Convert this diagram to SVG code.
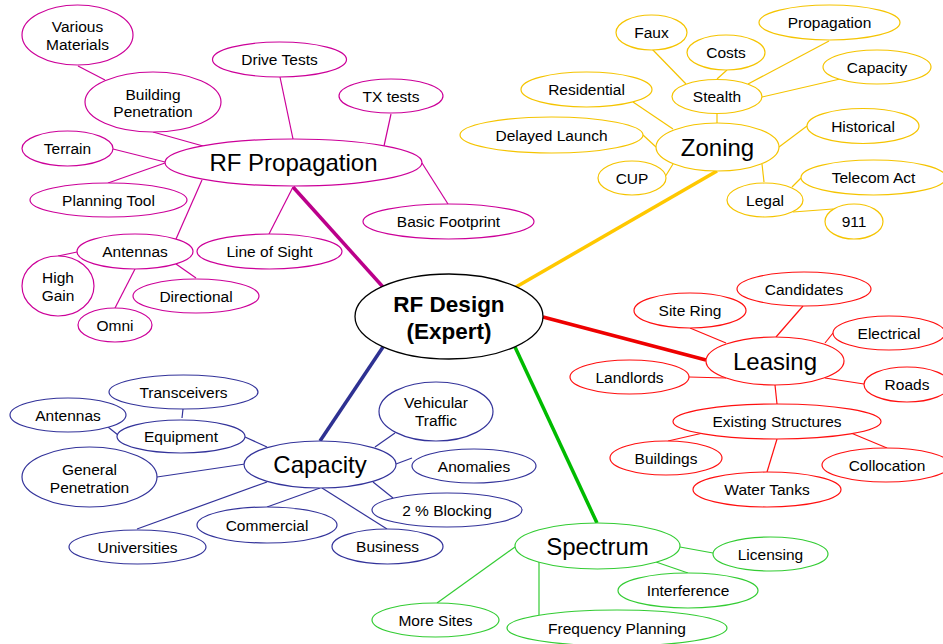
<svg xmlns="http://www.w3.org/2000/svg" width="943" height="644" viewBox="0 0 943 644">
<style>
text{font-family:"Liberation Sans",Arial,sans-serif;fill:#000;text-anchor:middle}
.s{font-size:15.5px}
.l{font-size:24px}
.c{font-size:22.5px;font-weight:bold}
ellipse{fill:#fff;stroke-width:1.2}
.pm ellipse{stroke:#cc0099}
.py ellipse{stroke:#f5c400}
.pr ellipse{stroke:#ff1010}
.pb ellipse{stroke:#33339a}
.pg ellipse{stroke:#33cc33}
.pc ellipse{stroke:#000;stroke-width:1.3}
line{stroke-width:1.2}
.m{stroke:#cc0099}.y{stroke:#f5c400}.r{stroke:#ff1010}.b{stroke:#33339a}.g{stroke:#33cc33}
.t{stroke-width:3.5}
.tm{stroke:#bb008a}.ty{stroke:#ffc800}.tr{stroke:#ee0000}.tb{stroke:#2e3192}.tg{stroke:#00bb00}
</style>
<g id="connectors">
<line class="t tm" x1="293" y1="187" x2="383" y2="287"/>
<line class="t ty" x1="717" y1="171" x2="516" y2="287"/>
<line class="t tr" x1="543" y1="317" x2="706" y2="360"/>
<line class="t tb" x1="383" y1="347" x2="320" y2="441"/>
<line class="t tg" x1="515" y1="347" x2="597" y2="523"/>
<line class="m" x1="78" y1="66" x2="105" y2="80"/>
<line class="m" x1="153" y1="132" x2="203" y2="146"/>
<line class="m" x1="280" y1="77" x2="293" y2="139"/>
<line class="m" x1="391" y1="114" x2="384" y2="146"/>
<line class="m" x1="113" y1="149" x2="165" y2="162"/>
<line class="m" x1="108" y1="183" x2="165" y2="163"/>
<line class="m" x1="422" y1="163" x2="448" y2="204"/>
<line class="m" x1="293" y1="187" x2="269" y2="234"/>
<line class="m" x1="202" y1="180" x2="176" y2="239"/>
<line class="m" x1="58" y1="256" x2="77" y2="252"/>
<line class="m" x1="135" y1="269" x2="115" y2="308"/>
<line class="m" x1="176" y1="264" x2="196" y2="278"/>
<line class="y" x1="652" y1="49" x2="686" y2="84"/>
<line class="y" x1="727" y1="70" x2="717" y2="79"/>
<line class="y" x1="829" y1="41" x2="748" y2="84"/>
<line class="y" x1="840" y1="79" x2="762" y2="97"/>
<line class="y" x1="717" y1="114" x2="717" y2="123"/>
<line class="y" x1="633" y1="102" x2="673" y2="129"/>
<line class="y" x1="643" y1="135" x2="656" y2="147"/>
<line class="y" x1="665" y1="177" x2="673" y2="164"/>
<line class="y" x1="807" y1="126" x2="779" y2="147"/>
<line class="y" x1="764" y1="182" x2="762" y2="164"/>
<line class="y" x1="801" y1="178" x2="792" y2="187"/>
<line class="y" x1="833" y1="209" x2="793" y2="212"/>
<line class="r" x1="690" y1="328" x2="726" y2="343"/>
<line class="r" x1="803" y1="306" x2="776" y2="337"/>
<line class="r" x1="833" y1="333" x2="825" y2="343"/>
<line class="r" x1="864" y1="384" x2="825" y2="378"/>
<line class="r" x1="689" y1="377" x2="726" y2="378"/>
<line class="r" x1="775" y1="385" x2="777" y2="404"/>
<line class="r" x1="668" y1="441" x2="703" y2="433"/>
<line class="r" x1="767" y1="472" x2="777" y2="439"/>
<line class="r" x1="887" y1="448" x2="851" y2="433"/>
<line class="b" x1="183" y1="409" x2="182" y2="418"/>
<line class="b" x1="108" y1="427" x2="118" y2="435"/>
<line class="b" x1="245" y1="437" x2="267" y2="447"/>
<line class="b" x1="157" y1="477" x2="245" y2="464"/>
<line class="b" x1="137" y1="529" x2="267" y2="482"/>
<line class="b" x1="267" y1="507" x2="320" y2="488"/>
<line class="b" x1="387" y1="529" x2="322" y2="488"/>
<line class="b" x1="393" y1="498" x2="373" y2="482"/>
<line class="b" x1="412" y1="458" x2="396" y2="464"/>
<line class="b" x1="395" y1="433" x2="375" y2="447"/>
<line class="g" x1="680" y1="547" x2="713" y2="553"/>
<line class="g" x1="656" y1="562" x2="688" y2="573"/>
<line class="g" x1="515" y1="547" x2="437" y2="603"/>
<line class="g" x1="539" y1="562" x2="539" y2="615"/>
</g>
<g id="rf-design" class="pc"><ellipse cx="449" cy="316.5" rx="94" ry="42.5"/><text class="c" x="449" y="312">RF Design</text><text class="c" x="449" y="339">(Expert)</text></g>
<g id="rf-propagation" class="pm"><ellipse cx="293.5" cy="162.5" rx="128.5" ry="23.5"/><text class="l" x="293.5" y="171">RF Propagation</text></g>
<g id="various-materials" class="pm"><ellipse cx="77.5" cy="35" rx="55.5" ry="30"/><text class="s" x="77.5" y="32">Various</text><text class="s" x="77.5" y="50">Materials</text></g>
<g id="building-penetration" class="pm"><ellipse cx="153" cy="102" rx="68" ry="30"/><text class="s" x="153" y="100">Building</text><text class="s" x="153" y="117">Penetration</text></g>
<g id="drive-tests" class="pm"><ellipse cx="279.5" cy="59.5" rx="67" ry="17.5"/><text class="s" x="279.5" y="65">Drive Tests</text></g>
<g id="tx-tests" class="pm"><ellipse cx="391" cy="96" rx="52" ry="17"/><text class="s" x="391" y="101.5">TX tests</text></g>
<g id="terrain" class="pm"><ellipse cx="67.5" cy="148.5" rx="45.5" ry="17.5"/><text class="s" x="67.5" y="154">Terrain</text></g>
<g id="planning-tool" class="pm"><ellipse cx="108.5" cy="200" rx="78.5" ry="17"/><text class="s" x="108.5" y="205.5">Planning Tool</text></g>
<g id="basic-footprint" class="pm"><ellipse cx="448.5" cy="221.5" rx="85.5" ry="17.5"/><text class="s" x="448.5" y="227">Basic Footprint</text></g>
<g id="line-of-sight" class="pm"><ellipse cx="269.5" cy="251.5" rx="72.5" ry="17.5"/><text class="s" x="269.5" y="257">Line of Sight</text></g>
<g id="antennas-rf" class="pm"><ellipse cx="135" cy="251.5" rx="58" ry="17.5"/><text class="s" x="135" y="257">Antennas</text></g>
<g id="high-gain" class="pm"><ellipse cx="58" cy="286" rx="36" ry="30"/><text class="s" x="58" y="283">High</text><text class="s" x="58" y="301">Gain</text></g>
<g id="directional" class="pm"><ellipse cx="196" cy="296" rx="63" ry="17"/><text class="s" x="196" y="301.5">Directional</text></g>
<g id="omni" class="pm"><ellipse cx="115" cy="325" rx="37" ry="17"/><text class="s" x="115" y="331">Omni</text></g>
<g id="zoning" class="py"><ellipse cx="717.5" cy="147" rx="61.5" ry="24"/><text class="l" x="717.5" y="155.5">Zoning</text></g>
<g id="faux" class="py"><ellipse cx="651.5" cy="32.5" rx="35.5" ry="17.5"/><text class="s" x="651.5" y="38">Faux</text></g>
<g id="costs" class="py"><ellipse cx="726" cy="52.5" rx="39" ry="17.5"/><text class="s" x="726" y="58">Costs</text></g>
<g id="propagation" class="py"><ellipse cx="829.5" cy="22.5" rx="70.5" ry="17.5"/><text class="s" x="829.5" y="28">Propagation</text></g>
<g id="capacity-z" class="py"><ellipse cx="877" cy="67" rx="54" ry="17"/><text class="s" x="877" y="72.5">Capacity</text></g>
<g id="stealth" class="py"><ellipse cx="717" cy="96.5" rx="45" ry="17"/><text class="s" x="717" y="102">Stealth</text></g>
<g id="residential" class="py"><ellipse cx="586.5" cy="89.5" rx="65.5" ry="17.5"/><text class="s" x="586.5" y="95">Residential</text></g>
<g id="delayed-launch" class="py"><ellipse cx="551.5" cy="135" rx="91.5" ry="18"/><text class="s" x="551.5" y="140.5">Delayed Launch</text></g>
<g id="cup" class="py"><ellipse cx="632" cy="178" rx="34" ry="17"/><text class="s" x="632" y="183.5">CUP</text></g>
<g id="historical" class="py"><ellipse cx="863" cy="126" rx="56" ry="17.5"/><text class="s" x="863" y="131.5">Historical</text></g>
<g id="telecom-act" class="py"><ellipse cx="873.5" cy="177.5" rx="72.5" ry="17.5"/><text class="s" x="873.5" y="183">Telecom Act</text></g>
<g id="legal" class="py"><ellipse cx="765" cy="200" rx="38" ry="17"/><text class="s" x="765" y="205.5">Legal</text></g>
<g id="n911" class="py"><ellipse cx="854" cy="221.5" rx="29" ry="17.5"/><text class="s" x="854" y="227">911</text></g>
<g id="leasing" class="pr"><ellipse cx="775" cy="361" rx="69" ry="24"/><text class="l" x="775" y="369.5">Leasing</text></g>
<g id="candidates" class="pr"><ellipse cx="804" cy="289" rx="67" ry="17"/><text class="s" x="804" y="294.5">Candidates</text></g>
<g id="site-ring" class="pr"><ellipse cx="690" cy="310.5" rx="56" ry="17.5"/><text class="s" x="690" y="316">Site Ring</text></g>
<g id="electrical" class="pr"><ellipse cx="889" cy="333" rx="56" ry="17"/><text class="s" x="889" y="338.5">Electrical</text></g>
<g id="landlords" class="pr"><ellipse cx="629.5" cy="377" rx="59.5" ry="17"/><text class="s" x="629.5" y="382.5">Landlords</text></g>
<g id="roads" class="pr"><ellipse cx="907" cy="384.5" rx="43" ry="17.5"/><text class="s" x="907" y="390">Roads</text></g>
<g id="existing-structures" class="pr"><ellipse cx="777" cy="421.5" rx="104" ry="17.5"/><text class="s" x="777" y="427">Existing Structures</text></g>
<g id="buildings" class="pr"><ellipse cx="666" cy="458" rx="56" ry="17"/><text class="s" x="666" y="463.5">Buildings</text></g>
<g id="collocation" class="pr"><ellipse cx="886" cy="465" rx="64" ry="17"/><text class="s" x="887" y="470.5">Collocation</text></g>
<g id="water-tanks" class="pr"><ellipse cx="767" cy="489.5" rx="74" ry="17.5"/><text class="s" x="767" y="495">Water Tanks</text></g>
<g id="capacity" class="pb"><ellipse cx="320" cy="464.5" rx="76" ry="23.5"/><text class="l" x="320" y="473">Capacity</text></g>
<g id="transceivers" class="pb"><ellipse cx="183.5" cy="392" rx="74.5" ry="17"/><text class="s" x="183.5" y="397.5">Transceivers</text></g>
<g id="antennas-cap" class="pb"><ellipse cx="68" cy="415" rx="58" ry="17"/><text class="s" x="68" y="420.5">Antennas</text></g>
<g id="equipment" class="pb"><ellipse cx="181" cy="436.5" rx="64" ry="16.5"/><text class="s" x="181" y="442">Equipment</text></g>
<g id="general-penetration" class="pb"><ellipse cx="89.5" cy="477" rx="67.5" ry="30"/><text class="s" x="89.5" y="475">General</text><text class="s" x="89.5" y="493">Penetration</text></g>
<g id="universities" class="pb"><ellipse cx="137.5" cy="547" rx="68.5" ry="17"/><text class="s" x="137.5" y="552.5">Universities</text></g>
<g id="commercial" class="pb"><ellipse cx="267" cy="525" rx="70" ry="18"/><text class="s" x="267" y="530.5">Commercial</text></g>
<g id="vehicular-traffic" class="pb"><ellipse cx="436" cy="411.5" rx="57" ry="29.5"/><text class="s" x="436" y="408">Vehicular</text><text class="s" x="436" y="426">Traffic</text></g>
<g id="anomalies" class="pb"><ellipse cx="474" cy="466" rx="62" ry="17"/><text class="s" x="474" y="471.5">Anomalies</text></g>
<g id="blocking" class="pb"><ellipse cx="447" cy="510" rx="75" ry="17"/><text class="s" x="447" y="515.5">2 % Blocking</text></g>
<g id="business" class="pb"><ellipse cx="387.5" cy="546.5" rx="55.5" ry="17.5"/><text class="s" x="387.5" y="552">Business</text></g>
<g id="spectrum" class="pg"><ellipse cx="597.5" cy="546" rx="82.5" ry="23"/><text class="l" x="597.5" y="554.5">Spectrum</text></g>
<g id="licensing" class="pg"><ellipse cx="770.5" cy="554" rx="57.5" ry="17"/><text class="s" x="770.5" y="559.5">Licensing</text></g>
<g id="interference" class="pg"><ellipse cx="688" cy="590.5" rx="70" ry="17.5"/><text class="s" x="688" y="596">Interference</text></g>
<g id="more-sites" class="pg"><ellipse cx="435.5" cy="620" rx="63.5" ry="17"/><text class="s" x="435.5" y="625.5">More Sites</text></g>
<g id="frequency-planning" class="pg"><ellipse cx="617" cy="628" rx="110" ry="18"/><text class="s" x="617" y="633.5">Frequency Planning</text></g>
</svg>
